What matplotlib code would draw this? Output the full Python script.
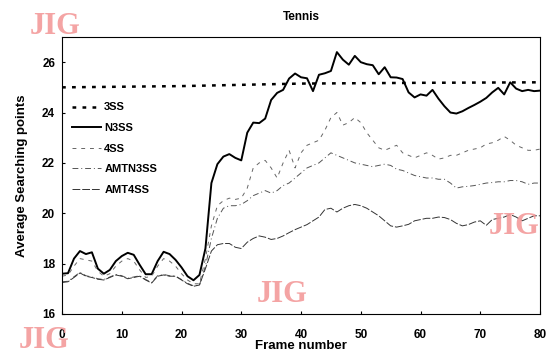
import numpy as np
import matplotlib.pyplot as plt

# frame numbers 0..80
frames = list(range(81))

ss3_frames = [0, 20, 40, 60, 80]
ss3 = [25.0, 25.05, 25.15, 25.18, 25.2]

n3ss = [17.6, 17.62, 18.2, 18.5, 18.38, 18.45, 17.8, 17.6, 17.75, 18.1,
        18.3, 18.43, 18.35, 17.95, 17.58, 17.58, 18.1, 18.47, 18.38, 18.15,
        17.85, 17.5, 17.34, 17.55, 18.6, 21.2, 21.95, 22.25, 22.35, 22.2,
        22.1, 23.2, 23.6, 23.58, 23.76, 24.5, 24.78, 24.9, 25.35, 25.55,
        25.4, 25.36, 24.85, 25.5, 25.56, 25.65, 26.4, 26.1, 25.9, 26.25,
        26.0, 25.92, 25.88, 25.52, 25.8, 25.4, 25.39, 25.33, 24.8, 24.6,
        24.72, 24.67, 24.9, 24.55, 24.25, 24.0, 23.96, 24.05, 24.18, 24.3,
        24.43, 24.58, 24.8, 24.98, 24.72, 25.2, 24.95, 24.85, 24.9, 24.85,
        24.87]

ss4 = [17.5, 17.55, 17.9, 18.2, 18.15, 18.1, 17.7, 17.5, 17.6, 17.9,
       18.1, 18.2, 18.1, 17.75, 17.45, 17.5, 17.9, 18.2, 18.1, 17.9,
       17.6, 17.35, 17.2, 17.2, 18.2, 19.5, 20.3, 20.5, 20.6, 20.55,
       20.6, 21.0, 21.8, 22.0, 22.1, 21.8, 21.4, 22.0, 22.5, 21.8,
       22.4, 22.7, 22.8, 22.9, 23.3, 23.8, 24.0, 23.5, 23.6, 23.8,
       23.6, 23.2, 22.9, 22.6, 22.5, 22.6, 22.7, 22.4, 22.3, 22.2,
       22.3, 22.4, 22.3, 22.15, 22.2, 22.3, 22.3, 22.4, 22.5, 22.55,
       22.6, 22.75, 22.8, 22.9, 23.05, 22.9, 22.7, 22.6, 22.5, 22.5,
       22.55]

amtn3ss = [17.28, 17.3, 17.48, 17.65, 17.52, 17.47, 17.4, 17.37, 17.47, 17.57,
           17.52, 17.42, 17.47, 17.52, 17.37, 17.25, 17.52, 17.57, 17.52, 17.5,
           17.37, 17.22, 17.12, 17.15, 17.9, 19.0, 19.8, 20.2, 20.3, 20.3,
           20.35, 20.5, 20.7, 20.8, 20.9, 20.8, 20.9, 21.1, 21.2, 21.4,
           21.6, 21.8, 21.9, 22.0, 22.2, 22.4, 22.3, 22.2, 22.1, 22.0,
           21.95, 21.9, 21.85, 21.9, 21.95, 21.9, 21.75, 21.7, 21.6, 21.5,
           21.45, 21.4, 21.4, 21.35, 21.35, 21.2, 21.0, 21.05, 21.07, 21.1,
           21.15, 21.2, 21.22, 21.25, 21.25, 21.3, 21.3, 21.25, 21.15, 21.2,
           21.2]

amt4ss = [17.25, 17.28, 17.45, 17.63, 17.5, 17.45, 17.38, 17.35, 17.45, 17.55,
          17.5, 17.4, 17.45, 17.5, 17.35, 17.23, 17.5, 17.55, 17.5, 17.5,
          17.35, 17.2, 17.1, 17.15, 17.8, 18.5, 18.75, 18.8, 18.8, 18.65,
          18.6, 18.85, 19.0, 19.1, 19.05, 18.96, 19.0, 19.1, 19.23, 19.35,
          19.45, 19.55, 19.7, 19.85, 20.15, 20.2, 20.05, 20.2, 20.3, 20.35,
          20.3, 20.2, 20.05, 19.9, 19.7, 19.5, 19.45, 19.5, 19.56, 19.7,
          19.75, 19.8, 19.8, 19.85, 19.83, 19.75, 19.6, 19.5, 19.55, 19.65,
          19.7, 19.52, 19.75, 19.8, 19.85, 19.95, 19.85, 19.7, 19.8, 19.9,
          19.9]

plt.rcParams['font.family'] = ['Liberation Sans', 'DejaVu Sans']
plt.rcParams['font.weight'] = 'bold'

fig = plt.figure(figsize=(5.46, 3.55), dpi=100)
ax = fig.add_axes([0.1136, 0.1155, 0.8755, 0.7803])

ax.plot(ss3_frames, ss3, color='black', linestyle=(0, (1.5, 2.5)), linewidth=1.8, label='3SS')
ax.plot(frames, n3ss, color='black', linewidth=1.4, label='N3SS')
ax.plot(frames, ss4, color='#666666', linestyle=(0, (4, 5)), linewidth=0.7, label='4SS')
ax.plot(frames, amtn3ss, color='#555555', linestyle=(0, (6, 3, 1, 3)), linewidth=0.7, label='AMTN3SS')
ax.plot(frames, amt4ss, color='#333333', linestyle=(0, (8, 2)), linewidth=0.7, label='AMT4SS')

ax.set_xlim(0, 80)
ax.set_ylim(16, 27)
ax.set_xticks(range(0, 81, 10))
ax.set_yticks(range(16, 27, 2))
ax.tick_params(direction='in', length=2, labelsize=8.5)
for lab in ax.get_xticklabels() + ax.get_yticklabels():
    lab.set_fontweight('bold')
ax.tick_params(axis='x', pad=11)
ax.tick_params(axis='y', pad=5)

ax.set_title('Tennis', fontsize=8.5, fontweight='bold', pad=12)
ax.set_xlabel('Frame number', fontsize=9.5, fontweight='bold', labelpad=-1)
ax.set_ylabel('Average Searching points', fontsize=9.5, fontweight='bold', labelpad=10)

leg = ax.legend(loc='upper left', bbox_to_anchor=(0.0, 0.8), frameon=False,
                fontsize=8, handlelength=2.6, labelspacing=0.95, handletextpad=0.3)
for t in leg.get_texts():
    t.set_fontweight('bold')

# watermarks
wm = dict(color='#f39a9a', fontsize=22, family='Liberation Serif', alpha=0.9)
fig.text(0.055, 0.905, 'JIG', **wm)
fig.text(0.47, 0.15, 'JIG', **wm)
fig.text(0.895, 0.34, 'JIG', **wm)
fig.text(0.035, 0.0, 'JIG', va='bottom', zorder=0, **wm)

fig.savefig('out.png', dpi=100)
